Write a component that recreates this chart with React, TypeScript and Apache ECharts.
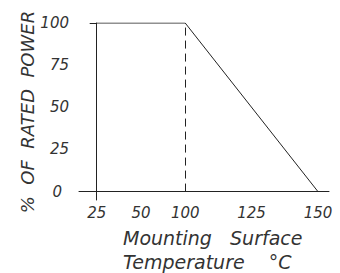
import React, { useEffect, useRef } from "react";
import * as echarts from "echarts";

// Tick labels of the (not-to-scale) temperature axis and their slot on the drawing axis
const xTickLabels = ["25", "50", "100", "125", "150"];
const xTickSlots = [0, 2, 4, 7, 10];
const yTickValues = [0, 25, 50, 75, 100];

// Derating curve
const temperatures = [25, 100, 150];
const ratedPower = [100, 100, 0];

const kneeTemp = 100;

const yTitle = "%  OF  RATED  POWER";
const xTitle = "Mounting   Surface\nTemperature    °C";

const slotOf = (t: number) => xTickSlots[xTickLabels.indexOf(String(t))];

const FONT = "DejaVu Sans";
const INK = "#222";
const TEXT = "#333";

export default function App() {
  const ref = useRef<HTMLDivElement>(null);
  useEffect(() => {
    if (!ref.current) return;
    const chart = echarts.init(ref.current, undefined, { renderer: "svg" });
    const curve = temperatures.map((t, i) => [slotOf(t), ratedPower[i]]);
    chart.setOption({
      animation: false,
      backgroundColor: "#fff",
      title: {
        text: xTitle,
        left: 123,
        top: 226,
        padding: 0,
        textStyle: {
          fontFamily: FONT,
          fontSize: 19,
          fontStyle: "italic",
          fontWeight: "normal",
          color: TEXT,
          lineHeight: 24,
        },
      },
      graphic: [
        {
          type: "text",
          x: 27,
          y: 112,
          rotation: Math.PI / 2,
          style: {
            text: yTitle,
            fontFamily: FONT,
            fontSize: 18,
            fontStyle: "italic",
            fill: TEXT,
            align: "center",
            verticalAlign: "middle",
          },
        },
      ],
      grid: { left: 79, right: 11, top: 23, bottom: 73, outerBoundsMode: "none", containLabel: false },
      xAxis: {
        type: "value",
        min: -0.8,
        max: 10.5,
        axisLine: { show: true, onZero: true, lineStyle: { color: INK, width: 1 } },
        axisTick: { show: false },
        splitLine: { show: false },
        axisLabel: {
          customValues: xTickSlots,
          formatter: (v: number) => {
            const i = xTickSlots.indexOf(v);
            return i >= 0 ? xTickLabels[i] : "";
          },
          margin: 5,
          fontFamily: FONT,
          fontSize: 15,
          fontStyle: "italic",
          color: TEXT,
        },
      },
      yAxis: {
        type: "value",
        min: -5,
        max: 100,
        axisLine: { show: true, onZero: true, lineStyle: { color: INK, width: 1 } },
        axisTick: { show: true, customValues: [100], length: 7, lineStyle: { color: INK } },
        splitLine: { show: false },
        axisLabel: {
          customValues: yTickValues,
          margin: 10,
          fontFamily: FONT,
          fontSize: 15,
          fontStyle: "italic",
          color: TEXT,
          formatter: (v: number) => (v === 0 ? "{z|0}" : String(v)),
          rich: {
            z: {
              fontFamily: FONT,
              fontSize: 15,
              fontStyle: "italic",
              color: TEXT,
              padding: [0, 7, 0, 0],
            },
          },
        },
      },
      series: [
        {
          type: "line",
          data: curve,
          showSymbol: false,
          symbol: "none",
          lineStyle: { color: INK, width: 1 },
          markLine: {
            silent: true,
            symbol: "none",
            label: { show: false },
            lineStyle: { color: INK, width: 1, type: [8, 5] },
            data: [
              [
                { coord: [slotOf(kneeTemp), 0] },
                { coord: [slotOf(kneeTemp), 100] },
              ],
            ],
          },
        },
      ],
    });
    return () => chart.dispose();
  }, []);
  return <div ref={ref} style={{ width: 340, height: 273, position: "absolute", left: 0, top: 0 }} />;
}
